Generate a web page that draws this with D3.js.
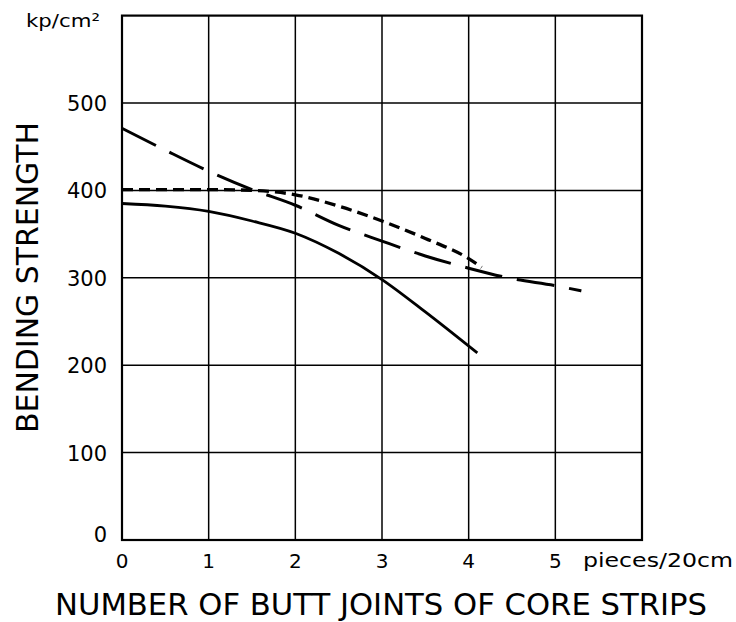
<!DOCTYPE html>
<html>
<head>
<meta charset="utf-8">
<script src="https://cdn.jsdelivr.net/npm/d3@7"></script>
<style>
  html, body { margin: 0; padding: 0; background: #fff; }
  svg { display: block; }
  text { font-family: "DejaVu Sans", sans-serif; fill: #000; }
</style>
</head>
<body>
<svg id="chart" width="736" height="622"></svg>
<script>
// ---- data ----
const xTicks = [0, 1, 2, 3, 4, 5];
const yTicks = [0, 100, 200, 300, 400, 500];
const xTitle = "NUMBER OF BUTT JOINTS OF CORE STRIPS";
const yTitle = "BENDING STRENGTH";
const yUnit = "kp/cm²";
const xUnit = "pieces/20cm";

// solid curve
const solidX = [0, 0.5, 1, 1.5, 2, 2.5, 3, 3.5, 4.1];
const solidY = [385, 382, 376, 365, 351, 328, 298, 261, 214];
// short-dashed curve
const shortX = [0, 1, 1.5, 2, 2.5, 3, 3.5, 4, 4.15];
const shortY = [401, 401, 400, 395, 382, 365, 345, 322, 312];
// long-dashed curve
const longX = [0, 0.5, 1, 1.5, 2, 2.5, 3, 3.5, 4, 4.5, 5, 5.3];
const longY = [471, 446, 422, 401, 383, 360, 342, 325, 311, 299, 291, 285];

// ---- drawing ----
const svg = d3.select("#chart");
const x = d3.scaleLinear().domain([0, 6]).range([122, 642]);
const y = d3.scaleLinear().domain([0, 600]).range([540, 15.6]);

// grid
const g = svg.append("g");
g.selectAll(".vg").data(xTicks.filter(d => d > 0)).enter().append("line")
  .attr("x1", d => x(d)).attr("x2", d => x(d))
  .attr("y1", y(0)).attr("y2", y(600))
  .attr("stroke", "#000").attr("stroke-width", 1.5);
g.selectAll(".hg").data(yTicks.filter(d => d > 0)).enter().append("line")
  .attr("x1", x(0)).attr("x2", x(6))
  .attr("y1", d => y(d)).attr("y2", d => y(d))
  .attr("stroke", "#000").attr("stroke-width", 1.5);
g.append("rect")
  .attr("x", x(0)).attr("y", y(600))
  .attr("width", x(6) - x(0)).attr("height", y(0) - y(600))
  .attr("fill", "none").attr("stroke", "#000").attr("stroke-width", 2.2);

// curves
const line = d3.line().x(d => x(d[0])).y(d => y(d[1])).curve(d3.curveMonotoneX);
function draw(xs, ys, dash, w) {
  svg.append("path")
    .datum(xs.map((v, i) => [v, ys[i]]))
    .attr("d", line)
    .attr("fill", "none")
    .attr("stroke", "#000")
    .attr("stroke-width", w)
    .attr("stroke-dasharray", dash);
}
draw(solidX, solidY, null, 2.8);
draw(shortX, shortY, "11,6", 3.3);
draw(longX, longY, "38,15", 3);

// tick labels
svg.selectAll(".xt").data(xTicks).enter().append("text")
  .attr("x", d => x(d)).attr("y", 568)
  .attr("text-anchor", "middle")
  .attr("font-size", 20)
  .text(d => d);
svg.append("text").attr("x", 583).attr("y", 567)
  .attr("font-size", 19).attr("textLength", 150).attr("lengthAdjust", "spacingAndGlyphs")
  .text(xUnit);

svg.selectAll(".yt").data(yTicks).enter().append("text")
  .attr("x", 107)
  .attr("y", d => d === 0 ? y(d) + 2 : y(d) + 8)
  .attr("text-anchor", "end")
  .attr("font-size", 21)
  .text(d => d);
svg.append("text").attr("x", 26).attr("y", 27)
  .attr("font-size", 18).attr("textLength", 74).attr("lengthAdjust", "spacingAndGlyphs")
  .text(yUnit);

// titles
svg.append("text").attr("x", 55).attr("y", 615)
  .attr("font-size", 31).attr("textLength", 652).attr("lengthAdjust", "spacingAndGlyphs")
  .text(xTitle);
svg.append("text")
  .attr("transform", "translate(38,433) rotate(-90)")
  .attr("font-size", 31).attr("textLength", 311).attr("lengthAdjust", "spacingAndGlyphs")
  .text(yTitle);
</script>
</body>
</html>
